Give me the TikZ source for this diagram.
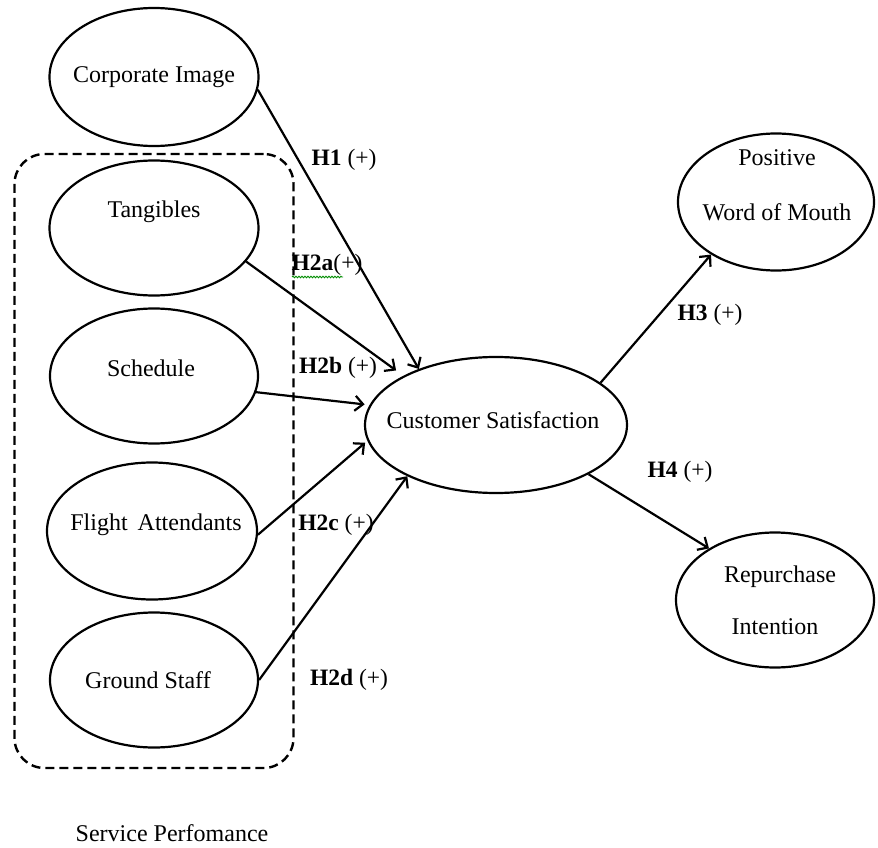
\documentclass[tikz,border=0pt]{standalone}
\usepackage{fontspec}
\setmainfont{Liberation Serif}
\usetikzlibrary{shapes.geometric,arrows.meta,decorations.pathmorphing}
\begin{document}
\begin{tikzpicture}[x=1pt,y=-1pt,
  oval/.style={ellipse,draw,line width=2.2pt,inner sep=0pt},
  txt/.style={font=\fontsize{24}{28}\selectfont,inner sep=0pt},
  hyp/.style={font=\fontsize{23.5}{28}\selectfont,inner sep=0pt},
  conn/.style={line width=2.2pt,-{Straight Barb[length=8pt,width=15pt,line width=2.2pt]}},
  group/.style={draw,dashed,line width=2.4pt,rounded corners=30pt,dash pattern=on 9pt off 5pt}]
\useasboundingbox (0,0) rectangle (878,848);
% group box
\node[group,minimum width=279pt,minimum height=614pt,inner sep=0pt] (sp) at (154,461) {};
% ellipses
\node[oval,minimum width=209pt,minimum height=138pt] (corp) at (154,77) {};
\node[txt] (corpT) at (154,77) {Corporate Image};
\node[oval,minimum width=209pt,minimum height=135pt] (tang) at (154,228) {};
\node[txt] (tangT) at (154,212) {Tangibles};
\node[oval,minimum width=208pt,minimum height=135pt] (sched) at (154,376) {};
\node[txt] (schedT) at (151,368) {Schedule};
\node[oval,minimum width=210pt,minimum height=137pt] (fa) at (152,531) {};
\node[txt] (faT) at (156,525) {Flight\, Attendants};
\node[oval,minimum width=208pt,minimum height=135pt] (gs) at (154,680) {};
\node[txt] (gsT) at (148,680) {Ground Staff};
\node[oval,minimum width=262pt,minimum height=136pt] (cs) at (496,425) {};
\node[txt] (csT) at (493,420) {Customer Satisfaction};
\node[oval,minimum width=196pt,minimum height=137pt] (pw) at (776,202) {};
\node[txt] (pwT1) at (777,158) {Positive};
\node[txt] (pwT2) at (777,212) {Word of Mouth};
\node[oval,minimum width=198pt,minimum height=135pt] (ri) at (775,600) {};
\node[txt] (riT1) at (780,577) {Repurchase};
\node[txt] (riT2) at (775,627) {Intention};
% connectors
\draw[conn] (corp.-7) -- (cs.144);
\draw[conn,shorten >=9pt] (tang.-20) -- (cs.152);
\draw[conn,shorten >=5pt] (sched.-9) -- (cs.171);
\draw[conn,shorten >=3pt] (fa.-2) -- (cs.187);
\draw[conn] (gs.0) -- (cs.210);
\draw[conn] (cs.22) -- (pw.219);
\draw[conn] (cs.-28) -- (ri.142);
% hypothesis labels
\node[hyp] (h1) at (344,160) {\textbf{H1} (+)};
\node[hyp] (h2a) at (327,265) {\textbf{H2a}(+)};
\draw[green!55!black,line width=0.9pt,decorate,decoration={snake,amplitude=0.8pt,segment length=3pt}] (292,277) -- (343,277);
\node[hyp] (h2b) at (338,368) {\textbf{H2b} (+)};
\node[hyp] (h2c) at (336,525) {\textbf{H2c} (+)};
\node[hyp] (h2d) at (349,680) {\textbf{H2d} (+)};
\node[hyp] (h3) at (710,315) {\textbf{H3} (+)};
\node[hyp] (h4) at (680,472) {\textbf{H4} (+)};
\node[txt] (spT) at (172,833) {Service Perfomance};
\end{tikzpicture}
\end{document}
